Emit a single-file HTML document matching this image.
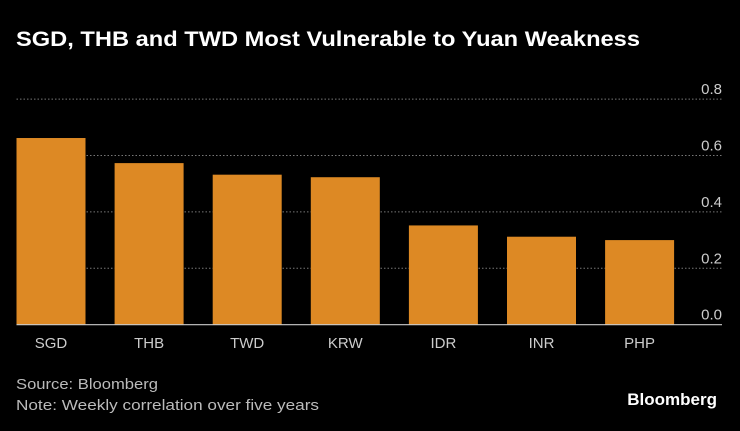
<!DOCTYPE html>
<html><head><meta charset="utf-8"><style>
body{margin:0;background:#000;width:740px;height:426px;overflow:hidden;font-family:"Liberation Sans",sans-serif;color:#fff}
</style></head><body>
<svg width="740" height="426">
<text x="16" y="46" font-size="21" font-weight="bold" fill="#fff" textLength="624" lengthAdjust="spacingAndGlyphs">SGD, THB and TWD Most Vulnerable to Yuan Weakness</text>
<g id="plot"></g>
<text x="16" y="389" font-size="15" fill="#bbb" textLength="142" lengthAdjust="spacingAndGlyphs">Source: Bloomberg</text>
<text x="16" y="410" font-size="15" fill="#bbb" textLength="303" lengthAdjust="spacingAndGlyphs">Note: Weekly correlation over five years</text>
<text x="717" y="405" font-size="17" font-weight="bold" fill="#fff" text-anchor="end">Bloomberg</text>
</svg>
<script>
const categories=["SGD","THB","TWD","KRW","IDR","INR","PHP"];
const values=[0.662,0.573,0.532,0.523,0.352,0.312,0.300];
const ticks=[0,0.2,0.4,0.6,0.8];
const tickLabels=["0.0","0.2","0.4","0.6","0.8"];
const NS="http://www.w3.org/2000/svg";
const g=document.getElementById('plot');
const y0=324.7,pxPerUnit=282,x0=16.5,step=98.1,bw=69,xr=722;
const yS=v=>y0-v*pxPerUnit;
const xS=i=>x0+i*step;
function mk(t,a){const e=document.createElementNS(NS,t);for(const k in a)e.setAttribute(k,a[k]);g.appendChild(e);return e;}
ticks.forEach((t,i)=>{
  if(t!==0){const l=mk('line',{x1:x0,x2:xr,y1:yS(t),y2:yS(t),stroke:'#777','stroke-width':1,'stroke-dasharray':'1.5,2'});
  
  }
  const tx=mk('text',{x:xr,y:yS(t)-5,'font-size':15,fill:'#ccc','text-anchor':'end'});
  tx.textContent=tickLabels[i];
  
  
});
values.forEach((v,i)=>{
  const r=mk('rect',{x:xS(i),y:yS(v),width:bw,height:y0-yS(v),fill:'#dd8924'});
  
  
  const t=mk('text',{x:xS(i)+bw/2,y:348,'font-size':15,fill:'#ccc','text-anchor':'middle'});
  t.textContent=categories[i];
  
  
});
const b=mk('line',{x1:x0,x2:xr,y1:y0,y2:y0,stroke:'#ccc','stroke-width':1.2});


</script>
</body></html>
